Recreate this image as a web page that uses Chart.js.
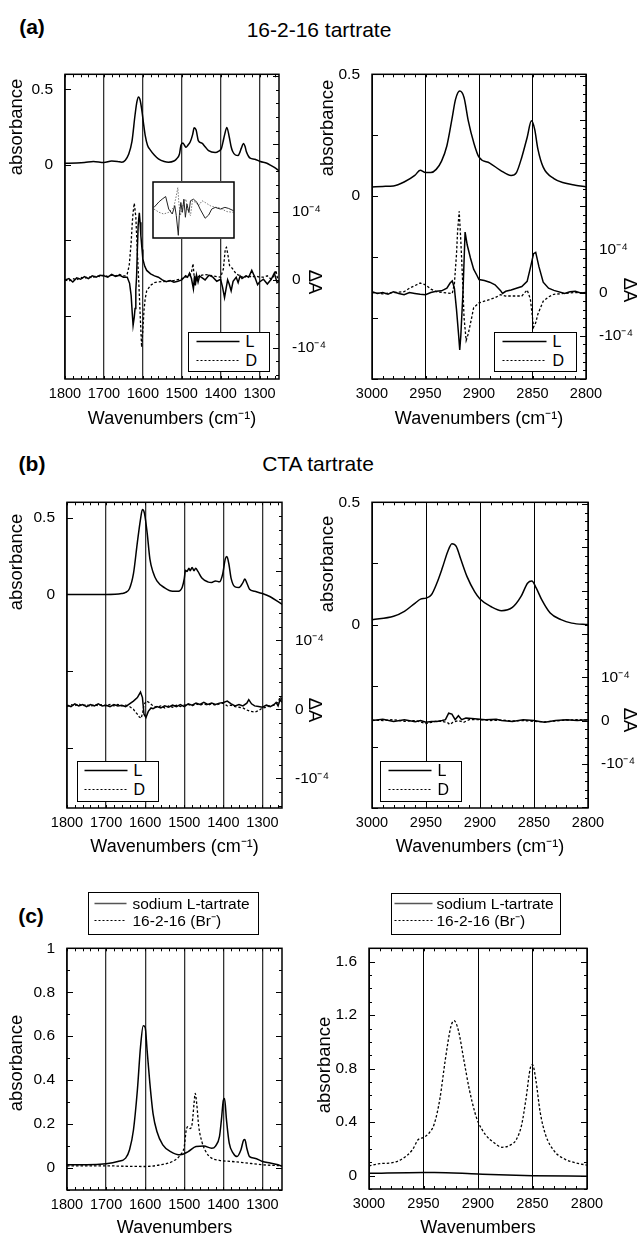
<!DOCTYPE html>
<html>
<head>
<meta charset="utf-8">
<script src="https://cdn.jsdelivr.net/npm/chart.js@4.4.1/dist/chart.umd.min.js"></script>
<style>
body{margin:0;background:#fff;width:637px;height:1237px;position:relative;overflow:hidden;font-family:"Liberation Sans",Arial,sans-serif;color:#000;}
canvas{position:absolute;}
.t{position:absolute;white-space:nowrap;line-height:1;transform:translate(-50%,-50%);}
.rl{transform:translate(-50%,-50%) rotate(-90deg);}
.rr{transform:translate(-50%,-50%) rotate(90deg);}
.lg{position:absolute;border:1.5px solid #000;background:#fff;box-sizing:border-box;}
</style>
</head>
<body>
<script>
//----- data: (a) 16-2-16 tartrate -----
// 1250-1800 cm-1, absorbance
var wnA1 = [1800,1770,1750,1727,1700,1680,1665,1654,1645,1637,1628,1620,1615,1611,1607,1603,1598,1594,1588,1581,1570,1560,1545,1534,1520,1513,1506,1502,1497,1493,1489,1484,1478,1472,1468,1463,1457,1448,1440,1431,1414,1405,1398,1394,1390,1384,1378,1373,1369,1362,1355,1351,1347,1341,1337,1334,1328,1324,1312,1298,1281,1270,1259,1250];
var absA1 = [0.01,0.012,0.015,0.022,0.015,0.025,0.022,0.017,0.03,0.066,0.153,0.33,0.42,0.45,0.43,0.37,0.27,0.197,0.13,0.099,0.063,0.04,0.022,0.017,0.025,0.04,0.07,0.13,0.145,0.13,0.116,0.13,0.153,0.2,0.245,0.23,0.158,0.143,0.12,0.094,0.081,0.09,0.109,0.15,0.197,0.248,0.186,0.12,0.088,0.065,0.061,0.08,0.109,0.142,0.12,0.088,0.055,0.044,0.037,0.022,0.01,-0.005,-0.022,-0.04];
// delta A in units of 1e-4
var wnA1L = [1800,1790,1780,1770,1760,1750,1740,1730,1720,1710,1700,1690,1680,1670,1660,1650,1640,1634,1630,1627,1625,1622,1620,1618,1616,1614,1612,1609,1607,1605,1602,1600,1595,1590,1580,1570,1560,1550,1540,1530,1520,1510,1500,1490,1485,1480,1475,1470,1467,1465,1462,1458,1454,1450,1440,1430,1420,1410,1400,1395,1390,1386,1382,1378,1373,1368,1360,1355,1350,1345,1335,1328,1320,1312,1305,1300,1290,1280,1270,1262,1255,1250];
var dA_A1L = [0,0.02,-0.03,0.03,0.01,0.05,0.02,0.06,0.04,0.07,0.06,0.04,0.08,0.05,0.07,0.04,0.04,-0.05,-0.23,-0.5,-0.67,-0.55,-0.42,-0.15,0.05,0.45,0.8,0.99,0.85,0.65,0.45,0.31,0.2,0.14,0.09,0.06,0.04,0,-0.025,-0.01,-0.035,-0.02,0,0.06,0.04,0.1,0.02,-0.13,0.06,-0.08,0.07,-0.03,0.06,0.04,0,0.07,0.04,-0.02,0.01,-0.11,-0.26,-0.13,0,-0.06,-0.16,-0.02,0.04,-0.04,0.06,0.02,0.06,0.04,0.14,0.04,-0.07,-0.03,0.01,-0.06,0.01,0.1,-0.04,-0.02];
var wnA1D = [1800,1790,1780,1770,1760,1750,1740,1730,1720,1710,1700,1690,1680,1670,1660,1650,1645,1640,1635,1630,1627,1625,1622,1618,1614,1610,1606,1603,1600,1597,1594,1590,1580,1570,1560,1540,1520,1500,1490,1480,1475,1471,1468,1465,1460,1455,1440,1420,1400,1393,1388,1385,1381,1377,1370,1360,1350,1340,1330,1320,1310,1300,1290,1280,1270,1262,1258,1254,1250];
var dA_A1D = [0,-0.02,0.02,0,0.04,0.02,0.05,0.03,0.06,0.05,0.07,0.05,0.07,0.06,0.08,0.06,0.06,0.09,0.21,0.55,0.85,0.99,1.13,0.93,0.41,-0.08,-0.62,-0.99,-0.75,-0.45,-0.28,-0.16,-0.08,-0.04,-0.03,-0.02,-0.01,0.02,0.04,0.06,0.11,0.24,0.05,-0.03,0.03,0.06,0.08,0.06,0.04,0.16,0.46,0.48,0.36,0.21,0.17,0.09,0.06,0.03,0.07,0.04,0.06,0.04,0.04,0.06,0.01,0.07,0.14,0.03,-0.02];
// inset (enlarged delta A)
var wnInL = [1518,1508,1502,1495,1489,1482,1477,1474,1470,1468,1465,1462,1459,1456,1453,1449,1446,1440,1433,1427,1417,1410,1404,1397,1387,1378,1371,1361];
var inL = [0.5,1.07,1.33,1.6,0.33,-0.17,0.67,-0.33,-2.33,-0.33,1.0,0,1.33,-0.5,0.83,0,1.17,1.33,1.0,0.33,-0.6,-0.27,0.33,0.5,0.33,0.5,0.4,0.17];
var wnInD = [1518,1508,1499,1489,1479,1474,1471,1469,1466,1462,1459,1455,1451,1446,1442,1436,1430,1423,1417,1407,1397,1391,1384,1374,1361];
var inD = [0.33,0,-0.17,0,0.5,1.67,2.5,1.0,-0.33,0.5,1.0,1.33,0.17,-0.33,1.17,1.0,0.67,1.17,1.0,0.67,0.5,0.5,0.33,0.07,0];
// 2800-3000 cm-1
var wnA2 = [3000,2990,2980,2970,2960,2955,2950,2945,2940,2935,2930,2925,2922,2918,2914,2910,2905,2900,2890,2880,2870,2865,2860,2855,2851,2848,2845,2840,2830,2820,2810,2800];
var absA2 = [0.038,0.04,0.042,0.058,0.085,0.106,0.097,0.097,0.11,0.144,0.207,0.323,0.396,0.431,0.405,0.309,0.221,0.16,0.136,0.106,0.085,0.097,0.16,0.241,0.309,0.275,0.194,0.119,0.072,0.054,0.045,0.038];
var wnA2L = [3000,2995,2990,2985,2980,2975,2970,2965,2960,2955,2950,2945,2940,2935,2930,2927,2925,2923,2921,2919,2918,2917,2915,2913,2911,2908,2905,2902,2900,2895,2890,2885,2880,2878,2875,2870,2865,2860,2855,2852,2849,2847,2844,2840,2835,2830,2820,2815,2810,2805,2800];
var dA_A2L = [0.02,-0.02,0,-0.04,0.02,-0.02,-0.05,0,-0.02,-0.04,-0.05,0,0.03,0.04,0.1,0.22,0.27,0.1,-0.4,-1.0,-1.33,-1.0,0,1.4,1.1,0.8,0.54,0.4,0.3,0.28,0.24,0.18,0.05,-0.02,0.03,0.06,0.1,0.14,0.26,0.57,0.9,0.93,0.6,0.24,0.1,0.05,-0.02,0.02,0.03,-0.01,0];
var wnA2D = [3000,2990,2980,2970,2965,2960,2955,2950,2945,2940,2930,2925,2923,2921,2920,2918.5,2917,2915,2914,2912,2910,2907,2905,2900,2895,2890,2885,2880,2875,2870,2860,2855,2852,2849,2847,2845,2840,2835,2830,2820,2810,2800];
var dA_A2D = [0,-0.03,0,0.02,0.1,0.16,0.22,0.18,0.08,0.02,-0.01,-0.02,0.2,0.9,1.42,1.88,1.2,0.1,-0.57,-1.11,-0.95,-0.6,-0.35,-0.24,-0.2,-0.16,-0.12,-0.05,-0.08,-0.08,-0.08,0.06,-0.15,-0.8,-0.7,-0.5,-0.2,-0.1,-0.04,-0.02,0,0];

//----- data: (b) CTA tartrate -----
var wnB1 = [1800,1750,1700,1660,1650,1640,1630,1620,1612,1607,1602,1595,1588,1580,1570,1550,1530,1515,1505,1500,1497,1493,1488,1485,1480,1475,1471,1465,1455,1440,1430,1420,1410,1402,1395,1391,1386,1380,1370,1360,1350,1345,1340,1333,1320,1300,1280,1260,1250];
var absB1 = [0,0,0,0.006,0.013,0.039,0.135,0.339,0.489,0.553,0.53,0.403,0.232,0.146,0.088,0.043,0.021,0.021,0.049,0.103,0.157,0.15,0.17,0.155,0.175,0.155,0.17,0.15,0.107,0.082,0.078,0.088,0.082,0.13,0.232,0.247,0.2,0.103,0.049,0.045,0.077,0.1,0.075,0.034,0.021,0.006,-0.015,-0.047,-0.064];
var wnB1L = [1800,1790,1780,1770,1760,1750,1740,1730,1720,1710,1700,1690,1680,1670,1660,1650,1640,1630,1620,1612,1607,1603,1598,1592,1585,1580,1570,1560,1550,1540,1530,1520,1510,1500,1490,1480,1470,1460,1450,1440,1430,1420,1410,1400,1390,1380,1370,1360,1350,1340,1335,1328,1320,1310,1300,1290,1280,1270,1265,1260,1255,1250];
var dA_B1L = [0.06,0.04,0.08,0.05,0.07,0.04,0.07,0.05,0.08,0.05,0.06,0.04,0.07,0.05,0.06,0.04,0.08,0.12,0.17,0.25,0.17,-0.07,-0.12,-0.03,0.02,0.01,0.04,0.02,0.05,0.03,0.06,0.04,0.07,0.04,0.08,0.06,0.09,0.07,0.1,0.07,0.09,0.07,0.09,0.1,0.12,0.08,0.05,0.07,0.05,0.09,0.14,0.08,0.05,0.04,0.03,0.06,0.04,0.07,0.1,0.05,0.14,0.1];
var wnB1D = [1800,1790,1780,1770,1760,1750,1740,1730,1720,1710,1700,1690,1680,1670,1660,1650,1640,1630,1625,1620,1615,1610,1606,1603,1597,1590,1580,1570,1560,1550,1540,1530,1520,1510,1500,1490,1480,1470,1460,1450,1440,1430,1420,1410,1400,1390,1380,1370,1360,1350,1340,1330,1320,1310,1300,1290,1280,1270,1260,1255,1250];
var dA_B1D = [0.04,0.07,0.05,0.08,0.05,0.07,0.04,0.07,0.05,0.07,0.05,0.07,0.05,0.07,0.05,0.06,0.04,0,-0.04,-0.07,-0.11,-0.13,-0.03,0.07,0.12,0.1,0.05,0.03,0.05,0.02,0.05,0.03,0.06,0.04,0.06,0.07,0.05,0.08,0.06,0.08,0.06,0.08,0.06,0.08,0.09,0.05,0.06,0.04,0.03,0.02,-0.01,-0.03,-0.04,-0.02,0.02,0.03,0.05,0.06,0.1,0.18,0.14];
var wnB2 = [3000,2980,2970,2960,2955,2950,2945,2940,2935,2930,2926,2922,2918,2912,2905,2900,2890,2880,2870,2862,2856,2852,2848,2843,2835,2825,2815,2800];
var absB2 = [0.02,0.034,0.054,0.088,0.104,0.108,0.122,0.169,0.23,0.297,0.331,0.32,0.27,0.196,0.135,0.105,0.074,0.057,0.07,0.115,0.169,0.178,0.15,0.103,0.047,0.02,0.006,0];
var wnB2L = [3000,2990,2980,2970,2960,2955,2950,2945,2940,2935,2932,2929,2926,2923,2920,2917,2913,2905,2895,2885,2880,2870,2860,2850,2845,2840,2830,2820,2810,2800];
var dA_B2L = [0,0.03,-0.02,0.02,-0.03,0,-0.04,-0.02,-0.02,0,0.02,0.17,0.15,0.02,0.11,0.02,0.06,0.04,0.02,0.03,0,-0.02,0.02,0,-0.02,-0.04,0,0.02,0,0.02];
var wnB2D = [3000,2990,2980,2970,2960,2950,2945,2940,2935,2930,2928,2925,2920,2915,2910,2900,2890,2880,2870,2860,2850,2840,2830,2820,2810,2800];
var dA_B2D = [0.01,0,0.02,-0.02,0,-0.07,-0.04,-0.01,-0.02,-0.05,-0.09,-0.04,0,-0.04,0.02,0.02,0,0.01,-0.01,0,-0.02,-0.03,-0.01,0.01,0.02,0.01];

//----- data: (c) references -----
var wnC1 = [1800,1750,1700,1670,1650,1640,1630,1620,1612,1605,1600,1595,1588,1580,1570,1555,1535,1510,1490,1470,1450,1430,1420,1410,1405,1400,1397,1392,1385,1375,1365,1355,1348,1345,1340,1333,1320,1300,1280,1260,1250];
var naC1 = [0.015,0.015,0.02,0.03,0.045,0.083,0.173,0.354,0.55,0.648,0.64,0.535,0.385,0.249,0.166,0.105,0.075,0.06,0.075,0.098,0.1,0.09,0.1,0.143,0.219,0.309,0.316,0.219,0.113,0.068,0.052,0.083,0.128,0.13,0.09,0.052,0.045,0.03,0.023,0.015,0.008];
var wnC1B = [1800,1700,1650,1600,1560,1530,1510,1500,1495,1490,1485,1480,1475,1472,1468,1463,1455,1445,1430,1410,1380,1350,1300,1250];
var brC1 = [0.01,0.01,0.008,0.007,0.015,0.03,0.06,0.098,0.173,0.188,0.18,0.2,0.294,0.34,0.29,0.19,0.12,0.075,0.045,0.035,0.03,0.025,0.015,0.01];
var wnC2 = [3000,2950,2940,2900,2850,2800];
var naC2 = [0.017,0.024,0.024,0.012,0,-0.005];
var wnC2B = [3000,2990,2980,2970,2960,2955,2950,2945,2940,2935,2930,2925,2922,2918,2913,2908,2903,2900,2893,2885,2878,2870,2865,2860,2856,2852,2850,2847,2843,2838,2830,2820,2810,2800];
var brC2 = [0.073,0.09,0.095,0.122,0.195,0.268,0.285,0.317,0.39,0.573,0.866,1.11,1.159,1.086,0.866,0.646,0.476,0.403,0.305,0.244,0.212,0.23,0.268,0.378,0.573,0.805,0.83,0.72,0.476,0.305,0.183,0.122,0.095,0.078];

Chart.defaults.font.family = '"Liberation Sans", Arial, sans-serif';
Chart.defaults.color = '#000';

function pts( xs, ys ){
	return xs.map( function( x, i ){ return { x: x, y: ys[i] }; } );
}

//solid / dotted line datasets
function solid( xs, ys, axis, smooth ){
	return { data: pts( xs, ys ), yAxisID: axis, borderColor: '#000', borderWidth: 1.5, pointRadius: 0,
		cubicInterpolationMode: smooth ? 'monotone' : 'default', tension: 0 };
}
function dotted( xs, ys, axis, smooth ){
	var d = solid( xs, ys, axis, smooth );
	d.borderWidth = 1.3;
	d.borderDash = [2.5, 2];
	return d;
}

//frame with inward tick marks (settings kept on the canvas element)
var frameTicks = {
	id: 'frameTicks',
	afterDatasetsDraw: function( chart ){
		var o = chart.canvas._frame || {};
		var ctx = chart.ctx, a = chart.chartArea, sc = chart.scales;
		var each = function( s, step, fn ){
			var n0 = Math.ceil( s.min / step - 1e-6 ), n1 = Math.floor( s.max / step + 1e-6 );
			for( var n = n0; n <= n1; n++ ) fn( Math.round( s.getPixelForValue( n * step ) ) + 0.5 );
		};
		ctx.save();
		ctx.strokeStyle = '#000';
		ctx.lineWidth = 1;
		ctx.beginPath();
		( o.x || [] ).forEach( function( m ){
			each( sc.x, m[0], function( p ){
				ctx.moveTo( p, a.bottom ); ctx.lineTo( p, a.bottom - m[1] );
				ctx.moveTo( p, a.top ); ctx.lineTo( p, a.top + m[1] );
			});
		});
		if( o.left ) o.left[1].forEach( function( m ){
			each( sc[o.left[0]], m[0], function( p ){ ctx.moveTo( a.left, p ); ctx.lineTo( a.left + m[1], p ); });
		});
		if( o.right ) o.right[1].forEach( function( m ){
			each( sc[o.right[0]], m[0], function( p ){ ctx.moveTo( a.right, p ); ctx.lineTo( a.right - m[1], p ); });
		});
		ctx.stroke();
		ctx.lineWidth = o.frame || 1.5;
		ctx.strokeRect( a.left, a.top, a.right - a.left, a.bottom - a.top );
		ctx.restore();
	}
};

function addCanvas( r, frame ){
	var cv = document.createElement( 'canvas' );
	cv.width = r[2]; cv.height = r[3];
	cv.style.left = r[0] + 'px'; cv.style.top = r[1] + 'px';
	cv.style.width = r[2] + 'px'; cv.style.height = r[3] + 'px';
	cv._frame = frame;
	document.body.appendChild( cv );
	return cv;
}

var dALabel = function( v ){ return v === 1 ? '10\u207B\u2074' : v === 0 ? '0' : v === -1 ? '-10\u207B\u2074' : ''; };

//rect = canvas [left, top, width, height], area = plot box [left, top, right, bottom] on the page
function makePanel( rect, area, o ){
	var cv = addCanvas( rect, o.frame );
	var cl = rect[0], ct = rect[1], cw = rect[2], ch = rect[3];
	var scales = {
		x: {
			type: 'linear', reverse: true, min: o.xmin, max: o.xmax,
			afterFit: function( s ){ s.height = ct + ch - area[3]; },
			grid: { drawTicks: false, color: o.gridColor, lineWidth: o.gridWidth },
			border: { display: false },
			ticks: { stepSize: o.xstep, includeBounds: false, padding: 6, maxRotation: 0, autoSkip: false,
				font: { size: 14.5 }, callback: function( v ){ return String( v ); } },
			title: { display: true, text: o.xtitle, font: { size: 18 }, padding: { top: 0, bottom: o.xtpad || 0 } }
		},
		y: {
			type: 'linear', position: 'left', min: o.ymin, max: o.ymax,
			afterFit: function( s ){ s.width = area[0] - cl; },
			grid: { display: false }, border: { display: false },
			ticks: { stepSize: o.ystep, includeBounds: false, padding: 4, autoSkip: false, font: { size: 15.5 }, callback: o.ylab }
		}
	};
	if( o.y2 ){
		scales.y2 = {
			type: 'linear', position: 'right', min: o.y2[0], max: o.y2[1],
			afterFit: function( s ){ s.width = cl + cw - area[2]; },
			grid: { display: false }, border: { display: false },
			ticks: { stepSize: 1, includeBounds: false, padding: 5, autoSkip: false, font: { size: 15.5 }, callback: dALabel }
		};
	}
	return new Chart( cv, {
		type: 'line',
		data: { datasets: o.datasets },
		options: {
			responsive: false, animation: false, devicePixelRatio: 1,
			layout: { padding: { top: area[1] - ct, left: 0, bottom: 0, right: o.y2 ? 0 : cl + cw - area[2] } },
			plugins: { legend: { display: false }, tooltip: { enabled: false } },
			scales: scales
		},
		plugins: [ frameTicks ]
	});
}

var absLab = function( v ){ return v === 0.5 ? '0.5' : v === 0 ? '0' : ''; };
var cLab = function( v ){ return String( Math.round( v * 10 ) / 10 ); };
var WN = 'Wavenumbers (cm\u207B\u00B9)';

//(a) left
makePanel( [0, 60, 330, 370], [65, 72, 279, 379], {
	xmin: 1250, xmax: 1800, xstep: 100, xtitle: WN, gridColor: '#333', gridWidth: 1.3,
	ymin: -1.42, ymax: 0.6, ystep: 0.5, ylab: absLab, y2: [-1.46, 3.03],
	frame: { x: [[20, 3]], left: ['y', [[0.5, 6]]], right: ['y2', [[1, 6], [0.2, 3]]] },
	datasets: [ solid( wnA1, absA1, 'y', true ), solid( wnA1L, dA_A1L, 'y2' ), dotted( wnA1D, dA_A1D, 'y2' ) ]
});
//(a) right
makePanel( [318, 60, 319, 370], [372, 72, 586, 379], {
	xmin: 2800, xmax: 3000, xstep: 50, xtitle: WN, gridColor: '#000', gridWidth: 1,
	ymin: -0.75, ymax: 0.5, ystep: 0.25, ylab: absLab, y2: [-2.0, 5.05],
	frame: { x: [[10, 3]], left: ['y', [[0.25, 6]]], right: ['y2', [[1, 6], [0.2, 3]]] },
	datasets: [ solid( wnA2, absA2, 'y', true ), solid( wnA2L, dA_A2L, 'y2' ), dotted( wnA2D, dA_A2D, 'y2' ) ]
});
//(b) left
makePanel( [0, 488, 330, 370], [67, 500, 282, 808], {
	xmin: 1250, xmax: 1800, xstep: 100, xtitle: WN, gridColor: '#333', gridWidth: 1.3,
	ymin: -1.39, ymax: 0.6, ystep: 0.5, ylab: absLab, y2: [-1.43, 3.0],
	frame: { x: [[20, 3]], left: ['y', [[0.5, 6]]], right: ['y2', [[1, 6], [0.2, 3]]] },
	datasets: [ solid( wnB1, absB1, 'y', true ), solid( wnB1L, dA_B1L, 'y2' ), dotted( wnB1D, dA_B1D, 'y2' ) ]
});
//(b) right
makePanel( [318, 488, 319, 370], [372, 500, 588, 808], {
	xmin: 2800, xmax: 3000, xstep: 50, xtitle: WN, gridColor: '#000', gridWidth: 1,
	ymin: -0.75, ymax: 0.5, ystep: 0.25, ylab: absLab, y2: [-2.02, 5.04],
	frame: { x: [[10, 3]], left: ['y', [[0.25, 6]]], right: ['y2', [[1, 6], [0.2, 3]]] },
	datasets: [ solid( wnB2, absB2, 'y', true ), solid( wnB2L, dA_B2L, 'y2' ), dotted( wnB2D, dA_B2D, 'y2' ) ]
});
//(c) left
makePanel( [0, 935, 318, 305], [67, 947, 282, 1190], {
	xmin: 1250, xmax: 1800, xstep: 100, xtitle: 'Wavenumbers', xtpad: 1, gridColor: '#333', gridWidth: 1.3,
	ymin: -0.1, ymax: 1.0, ystep: 0.2, ylab: cLab,
	frame: { x: [[20, 3]], left: ['y', [[0.2, 6], [0.1, 3]]], right: ['y', [[0.2, 6], [0.1, 3]]] },
	datasets: [ solid( wnC1, naC1, 'y', true ), dotted( wnC1B, brC1, 'y', true ) ]
});
//(c) right
makePanel( [318, 935, 319, 305], [369, 943, 587, 1189], {
	xmin: 2800, xmax: 3000, xstep: 50, xtitle: 'Wavenumbers', xtpad: 1, gridColor: '#000', gridWidth: 1,
	ymin: -0.1, ymax: 1.7, ystep: 0.4, ylab: cLab,
	frame: { x: [[10, 3]], left: ['y', [[0.4, 6], [0.1, 3]]], right: ['y', [[0.4, 6], [0.1, 3]]] },
	datasets: [ solid( wnC2, naC2, 'y', true ), dotted( wnC2B, brC2, 'y', true ) ]
});

//inset of (a) left
var inCv = addCanvas( [152, 181, 83, 58], { frame: 1.5 } );
inCv.style.background = '#fff';
new Chart( inCv, {
	type: 'line',
	data: { datasets: [
		{ data: pts( wnInL, inL ), borderColor: '#222', borderWidth: 1, pointRadius: 0 },
		{ data: pts( wnInD, inD ), borderColor: '#777', borderWidth: 1, borderDash: [1.5, 1.5], pointRadius: 0 }
	]},
	options: {
		responsive: false, animation: false, devicePixelRatio: 1,
		layout: { padding: 1 },
		plugins: { legend: { display: false }, tooltip: { enabled: false } },
		scales: {
			x: { type: 'linear', reverse: true, min: 1360, max: 1520, display: false },
			y: { min: -2.6, max: 3.07, display: false }
		}
	},
	plugins: [ frameTicks ]
});

//text labels
function addText( txt, x, y, size, cls, bold ){
	var d = document.createElement( 'div' );
	d.className = 't' + ( cls ? ' ' + cls : '' );
	d.style.left = x + 'px'; d.style.top = y + 'px'; d.style.fontSize = size + 'px';
	if( bold ) d.style.fontWeight = 'bold';
	d.textContent = txt;
	document.body.appendChild( d );
}
addText( '(a)', 32, 26, 21, '', true );
addText( '16-2-16 tartrate', 319, 29, 21 );
addText( '(b)', 32, 463, 21, '', true );
addText( 'CTA tartrate', 318, 463, 21 );
addText( '(c)', 31, 915, 21, '', true );
addText( 'absorbance', 16, 127, 18.5, 'rl' );
addText( 'absorbance', 327, 128, 18.5, 'rl' );
addText( 'absorbance', 16, 562, 18.5, 'rl' );
addText( 'absorbance', 327, 564, 18.5, 'rl' );
addText( 'absorbance', 16, 1063, 18.5, 'rl' );
addText( 'absorbance', 324, 1065, 18.5, 'rl' );
addText( '\u0394A', 315, 282, 18.5, 'rr' );
addText( '\u0394A', 630, 290, 18.5, 'rr' );
addText( '\u0394A', 315, 710, 18.5, 'rr' );
addText( '\u0394A', 630, 720, 18.5, 'rr' );

//legend boxes: box [left, top, width, height], rows [label, dashed, lineX1, lineX2, textX, rowY]
function addLegend( box, rows, size, lineColor ){
	var d = document.createElement( 'div' );
	d.className = 'lg';
	d.style.left = box[0] + 'px'; d.style.top = box[1] + 'px';
	d.style.width = box[2] + 'px'; d.style.height = box[3] + 'px';
	var ox = box[0] + 1.5, oy = box[1] + 1.5;
	var svg = '<svg width="' + box[2] + '" height="' + box[3] + '" style="position:absolute;left:0;top:0">';
	var html = '';
	rows.forEach( function( r ){
		svg += '<line x1="' + ( r[2] - ox ) + '" x2="' + ( r[3] - ox ) + '" y1="' + ( r[5] - oy ) + '" y2="' + ( r[5] - oy ) +
			'" stroke="' + ( r[1] ? '#000' : lineColor ) + '" stroke-width="' + ( r[1] ? 1.2 : 1.5 ) + '"' +
			( r[1] ? ' stroke-dasharray="2,2"' : '' ) + '/>';
		html += '<span style="position:absolute;left:' + ( r[4] - ox ) + 'px;top:' + ( r[5] - oy ) +
			'px;transform:translateY(-50%);font-size:' + size + 'px;line-height:1;white-space:nowrap">' + r[0] + '</span>';
	});
	d.innerHTML = svg + '</svg>' + html;
	document.body.appendChild( d );
}
addLegend( [188, 332, 82, 40], [['L', false, 197, 240, 246, 342], ['D', true, 197, 240, 246, 361]], 16, '#000' );
addLegend( [494, 332, 83, 40], [['L', false, 503, 547, 553, 342], ['D', true, 503, 547, 553, 361]], 16, '#000' );
addLegend( [77, 761, 82, 41], [['L', false, 85, 128, 134, 771], ['D', true, 85, 128, 134, 790]], 16, '#000' );
addLegend( [380, 761, 82, 41], [['L', false, 389, 432, 438, 771], ['D', true, 389, 432, 438, 790]], 16, '#000' );
addLegend( [88, 892, 171, 43], [['sodium L-tartrate', false, 95, 127, 133, 904], ['16-2-16 (Br\u207B)', true, 95, 127, 133, 921]], 15.5, '#555' );
addLegend( [391, 893, 170, 42], [['sodium L-tartrate', false, 395, 433, 437, 904], ['16-2-16 (Br\u207B)', true, 395, 433, 437, 921]], 15.5, '#555' );
</script>
</body>
</html>
